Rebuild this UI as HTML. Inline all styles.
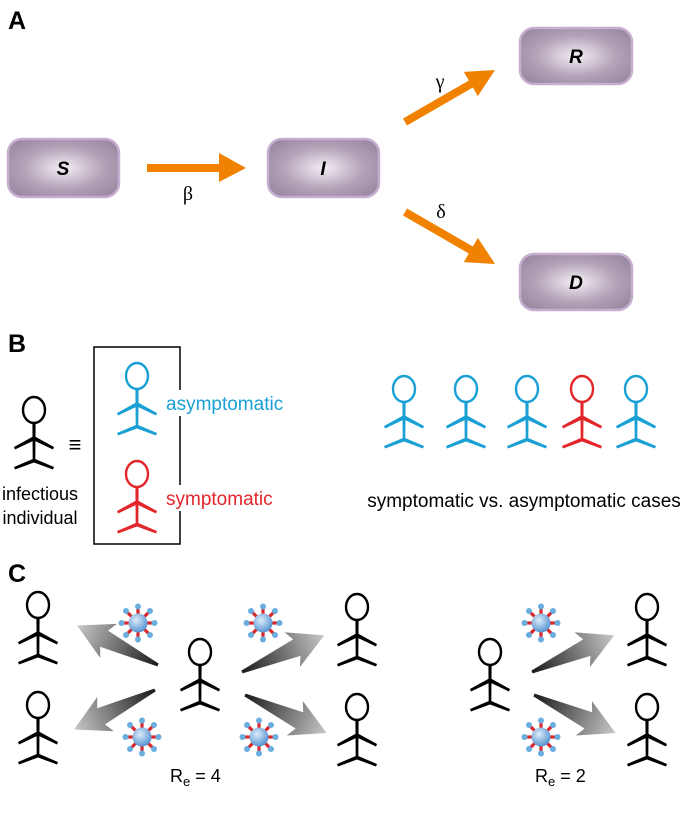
<!DOCTYPE html>
<html><head><meta charset="utf-8"><style>
html,body{margin:0;padding:0;background:#fff;}
svg{display:block;}
text{font-family:"Liberation Sans",Arial,sans-serif;}
</style></head><body>
<svg width="685" height="821" viewBox="0 0 685 821" xmlns="http://www.w3.org/2000/svg">
<defs>
<radialGradient id="box" cx="50%" cy="50%" r="60%">
<stop offset="0" stop-color="#f3eef4"/><stop offset="0.6" stop-color="#b3a2b8"/><stop offset="1" stop-color="#9c89a3"/>
</radialGradient>
<radialGradient id="vir" cx="40%" cy="35%" r="70%">
<stop offset="0" stop-color="#dcecf8"/><stop offset="1" stop-color="#4f8fd0"/>
</radialGradient>
<linearGradient id="ga" x1="0" y1="0" x2="1" y2="0">
<stop offset="0" stop-color="#1a1a1a"/><stop offset="1" stop-color="#c8c8c8"/>
</linearGradient>
<g id="fig">
<ellipse cx="0" cy="0" rx="11" ry="13" fill="none" stroke="currentColor" stroke-width="2.4"/>
<path d="M-1.6 12 L1.6 12 L1.3 51 L-1.3 51Z" fill="currentColor"/>
<path d="M0 26 L-20 37 L-19 39.5 L0 30.5 L19 39.5 L20 37Z" fill="currentColor"/>
<path d="M0 48.5 L-20 57 L-19 59.5 L0 52.5 L19 59.5 L20 57Z" fill="currentColor"/>
</g>
<g id="virus">
<g stroke="#d8282a" stroke-width="3.2">
<line x1="0" y1="0" x2="0" y2="-15"/><line x1="0" y1="0" x2="0" y2="15"/>
<line x1="0" y1="0" x2="-15" y2="0"/><line x1="0" y1="0" x2="15" y2="0"/>
<line x1="0" y1="0" x2="-11" y2="-11"/><line x1="0" y1="0" x2="11" y2="11"/>
<line x1="0" y1="0" x2="-11" y2="11"/><line x1="0" y1="0" x2="11" y2="-11"/>
</g>
<g fill="#6aaee0">
<circle cx="0" cy="-16.5" r="3"/><circle cx="0" cy="16.5" r="3"/><circle cx="-16.5" cy="0" r="3"/><circle cx="16.5" cy="0" r="3"/>
<circle cx="-12" cy="-12" r="3"/><circle cx="12" cy="12" r="3"/><circle cx="-12" cy="12" r="3"/><circle cx="12" cy="-12" r="3"/>
</g>
<circle cx="0" cy="0" r="9.5" fill="url(#vir)"/>
</g>
<g id="garrow">
<path d="M0 -1.5 L60 -9 L55 -19 L90 0 L55 19 L60 9 L0 1.5Z" fill="url(#ga)"/>
</g>
</defs>

<!-- A -->
<text x="8" y="29" font-size="25" font-weight="bold">A</text>
<g stroke="#c6aed0" stroke-width="2.5" fill="url(#box)">
<rect x="8" y="139" width="111" height="58" rx="14"/>
<rect x="268" y="139" width="111" height="58" rx="14"/>
<rect x="520" y="28" width="112" height="56" rx="14"/>
<rect x="520" y="254" width="112" height="56" rx="14"/>
</g>
<g font-size="19" font-weight="bold" font-style="italic" text-anchor="middle">
<text x="63" y="175">S</text><text x="323" y="175">I</text>
<text x="576" y="63">R</text><text x="576" y="289">D</text>
</g>
<g fill="#f08200">
<path d="M147 164 L219 164 L219 153 L246 168 L219 182 L219 172 L147 172Z"/>
<g transform="translate(405,122) rotate(-30)"><path d="M0 -4 L76 -4 L76 -14 L104 0 L76 14 L76 4 L0 4Z"/></g>
<g transform="translate(405,212) rotate(30)"><path d="M0 -4 L76 -4 L76 -14 L104 0 L76 14 L76 4 L0 4Z"/></g>
</g>
<g font-size="20" text-anchor="middle">
<text x="188" y="200" style="font-family:'Liberation Serif',serif">β</text>
<text x="440" y="88" style="font-family:'Liberation Serif',serif">γ</text>
<text x="441" y="218" style="font-family:'Liberation Serif',serif">δ</text>
</g>

<!-- B -->
<text x="8" y="352" font-size="25" font-weight="bold">B</text>
<use href="#fig" x="34" y="410" color="#000"/>
<text x="75" y="452" font-size="22" font-weight="bold" text-anchor="middle">≡</text>
<text x="40" y="500" font-size="18" text-anchor="middle">infectious</text>
<text x="40" y="524" font-size="18" text-anchor="middle">individual</text>
<rect x="94" y="347" width="86" height="197" fill="none" stroke="#000" stroke-width="1.5"/>
<rect x="163" y="390" width="130" height="26" fill="#fff"/>
<rect x="163" y="485" width="130" height="26" fill="#fff"/>
<use href="#fig" x="137" y="376" color="#1aa0d4"/>
<use href="#fig" x="137" y="474" color="#e2262a"/>
<text x="166" y="410" font-size="19" fill="#1aa0d4">asymptomatic</text>
<text x="166" y="505" font-size="19" fill="#e2262a">symptomatic</text>
<use href="#fig" x="404" y="389" color="#1aa0d4"/>
<use href="#fig" x="466" y="389" color="#1aa0d4"/>
<use href="#fig" x="527" y="389" color="#1aa0d4"/>
<use href="#fig" x="582" y="389" color="#e2262a"/>
<use href="#fig" x="636" y="389" color="#1aa0d4"/>
<text x="524" y="507" font-size="19" text-anchor="middle">symptomatic vs. asymptomatic cases</text>

<!-- C -->
<text x="8" y="582" font-size="25" font-weight="bold">C</text>
<use href="#fig" x="38" y="605" color="#000"/>
<use href="#fig" x="38" y="705" color="#000"/>
<use href="#fig" x="200" y="652" color="#000"/>
<use href="#fig" x="357" y="607" color="#000"/>
<use href="#fig" x="357" y="707" color="#000"/>
<use href="#fig" x="490" y="652" color="#000"/>
<use href="#fig" x="647" y="607" color="#000"/>
<use href="#fig" x="647" y="707" color="#000"/>
<g transform="translate(158,665) rotate(206)"><use href="#garrow"/></g>
<g transform="translate(155,690) rotate(154)"><use href="#garrow"/></g>
<g transform="translate(242,672) rotate(-24)"><use href="#garrow"/></g>
<g transform="translate(245,695) rotate(25)"><use href="#garrow"/></g>
<g transform="translate(532,672) rotate(-24)"><use href="#garrow"/></g>
<g transform="translate(534,695) rotate(25)"><use href="#garrow"/></g>
<use href="#virus" x="138" y="623"/>
<use href="#virus" x="263" y="623"/>
<use href="#virus" x="142" y="737"/>
<use href="#virus" x="259" y="737"/>
<use href="#virus" x="541" y="623"/>
<use href="#virus" x="541" y="737"/>
<text x="170" y="782" font-size="18">R<tspan font-size="13" dy="4">e</tspan><tspan dy="-4"> = 4</tspan></text>
<text x="535" y="782" font-size="18">R<tspan font-size="13" dy="4">e</tspan><tspan dy="-4"> = 2</tspan></text>
</svg>
</body></html>
